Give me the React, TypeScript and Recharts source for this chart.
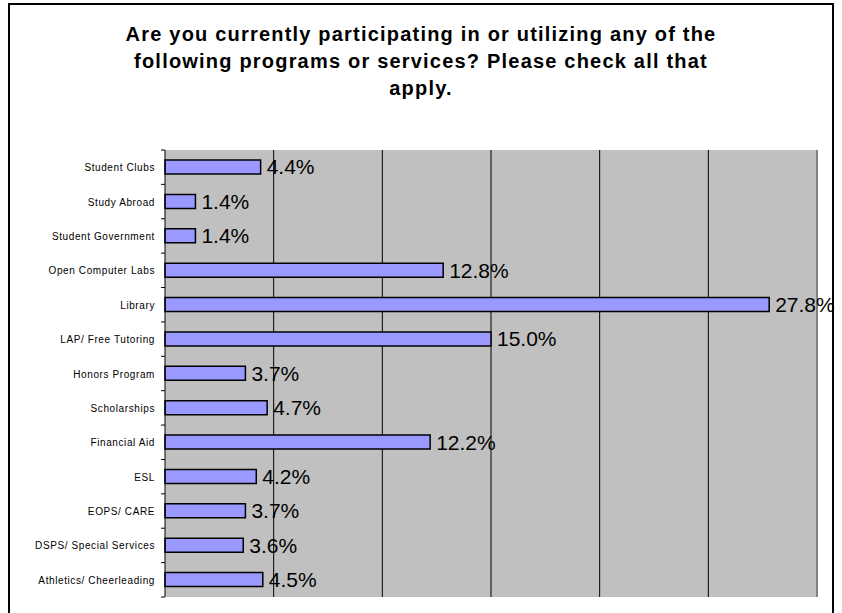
import React from 'react';
import { BarChart, Bar, XAxis, YAxis, CartesianGrid, LabelList, ReferenceLine } from 'recharts';

const categories = [
  'Student Clubs',
  'Study Abroad',
  'Student Government',
  'Open Computer Labs',
  'Library',
  'LAP/ Free Tutoring',
  'Honors Program',
  'Scholarships',
  'Financial Aid',
  'ESL',
  'EOPS/ CARE',
  'DSPS/ Special Services',
  'Athletics/ Cheerleading',
];

const percents = [4.4, 1.4, 1.4, 12.8, 27.8, 15.0, 3.7, 4.7, 12.2, 4.2, 3.7, 3.6, 4.5];

const gridTicks = [5, 10, 15, 20, 25];

const titleLines = [
  'Are you currently participating in or utilizing any of the',
  'following programs or services? Please check all that',
  'apply.',
];

const data = categories.map((name, i) => ({ name, value: percents[i] }));

const FONT = 'Arial, "Liberation Sans", sans-serif';
const PLOT_H = 613 - 150 - 16;

// category label plus the little tick marks that sit on the band edges
const CategoryTick = (props: any) => {
  const { x, y, payload, index } = props;
  const half = payload && payload.offset ? payload.offset : PLOT_H / categories.length / 2;
  const ax = x + 10;
  return (
    <g>
      <text
        x={x}
        y={y}
        dy={4}
        textAnchor="end"
        fontSize={10}
        letterSpacing={0.6}
        fontFamily={FONT}
        fill="#000"
      >
        {payload.value}
      </text>
      <line x1={ax - 4} x2={ax} y1={y - half} y2={y - half} stroke="#000" strokeWidth={1} />
      {index === categories.length - 1 && (
        <line x1={ax - 4} x2={ax} y1={y + half} y2={y + half} stroke="#000" strokeWidth={1} />
      )}
    </g>
  );
};

const App = () => {
  return (
    <div
      style={{
        position: 'absolute',
        left: 0,
        top: 0,
        width: 842,
        height: 613,
        overflow: 'hidden',
        background: '#fff',
      }}
    >
      <div
        style={{
          position: 'absolute',
          left: 8,
          top: 3,
          width: 822,
          height: 640,
          border: '2px solid #000',
        }}
      />
      <div
        style={{
          position: 'absolute',
          left: 9,
          top: 21,
          width: 824,
          textAlign: 'center',
          fontFamily: FONT,
          fontWeight: 'bold',
          fontSize: 20,
          letterSpacing: 1.2,
          lineHeight: '27px',
          color: '#000',
        }}
      >
        {titleLines.map((l) => (
          <div key={l}>{l}</div>
        ))}
      </div>
      <div style={{ position: 'absolute', left: 0, top: 0 }}>
        <BarChart
          width={842}
          height={613}
          data={data}
          layout="vertical"
          margin={{ top: 150, right: 25, bottom: 16, left: 0 }}
          barSize={14}
        >
          <CartesianGrid horizontal={false} vertical={false} fill="#c0c0c0" fillOpacity={1} />
          <XAxis
            type="number"
            domain={[0, 30]}
            ticks={gridTicks}
            tick={false}
            tickLine={false}
            height={0}
            axisLine={{ stroke: '#808080', strokeWidth: 2 }}
          />
          <XAxis
            xAxisId="top"
            orientation="top"
            type="number"
            domain={[0, 30]}
            tick={false}
            tickLine={false}
            height={0}
            axisLine={{ stroke: '#b0b0b0', strokeWidth: 1 }}
          />
          <YAxis
            type="category"
            dataKey="name"
            width={165}
            tickLine={false}
            tickSize={6}
            tickMargin={4}
            interval={0}
            axisLine={false}
            tick={<CategoryTick />}
          />
          {/* grid lines sit under the bars */}
          {gridTicks.map((v) => (
            <ReferenceLine key={v} x={v} stroke="#000" strokeWidth={1} zIndex={-50} />
          ))}
          <ReferenceLine x={30} stroke="#808080" strokeWidth={2} zIndex={-50} />
          <ReferenceLine x={0} stroke="#000" strokeWidth={1} />
          <Bar dataKey="value" fill="#9999ff" stroke="#000" strokeWidth={1.5} isAnimationActive={false}>
            <LabelList
              dataKey="value"
              position="right"
              offset={6}
              formatter={(v: any) => `${Number(v).toFixed(1)}%`}
              style={{ fontSize: 21, fontFamily: FONT, fill: '#000' }}
            />
          </Bar>
        </BarChart>
      </div>
    </div>
  );
};

export default App;
